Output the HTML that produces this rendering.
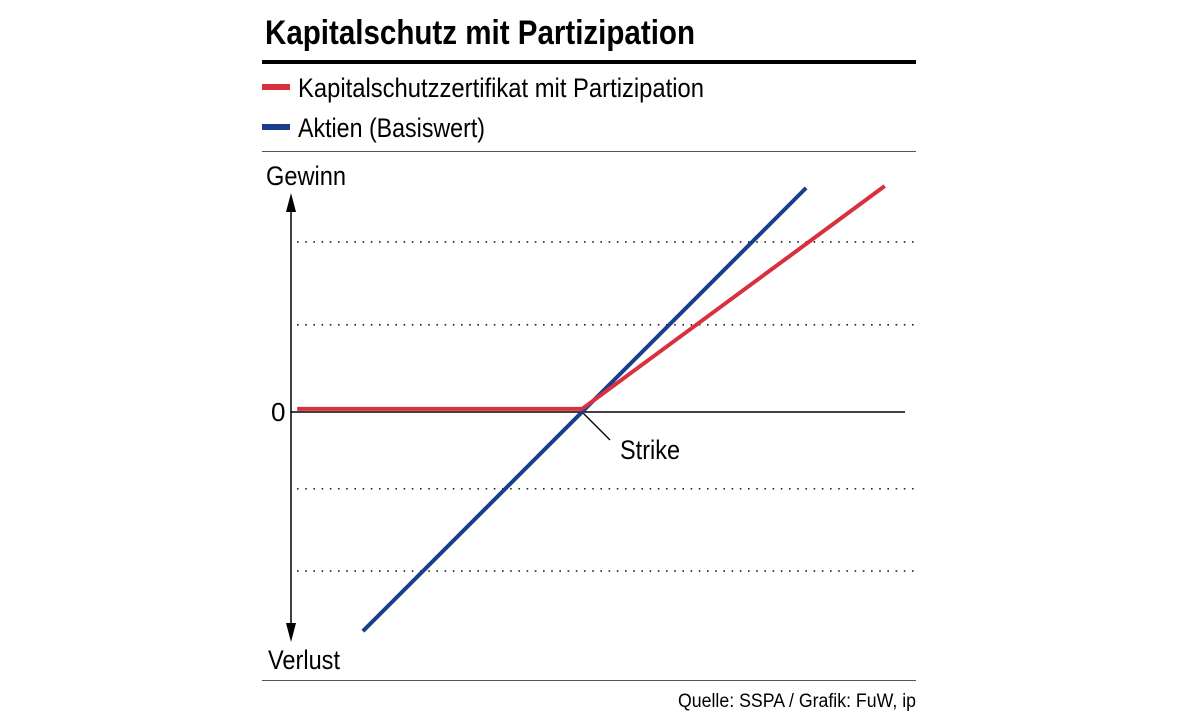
<!DOCTYPE html>
<html><head><meta charset="utf-8"><style>
html,body{margin:0;padding:0;background:#fff;}
svg{display:block;font-family:"Liberation Sans Narrow","Liberation Sans",sans-serif;}
</style></head><body>
<svg id="chart" width="1179" height="713" viewBox="0 0 1179 713">
<text x="265" y="44" font-size="34" font-weight="bold" textLength="430" lengthAdjust="spacingAndGlyphs">Kapitalschutz mit Partizipation</text>
<rect x="262" y="60" width="654" height="4" fill="#000"/>
<g>
<rect x="262" y="84" width="28" height="6" fill="#d9303e"/>
<text x="298" y="97" font-size="27" textLength="406" lengthAdjust="spacingAndGlyphs">Kapitalschutzzertifikat mit Partizipation</text>
<rect x="262" y="124" width="28" height="6" fill="#1b3e8c"/>
<text x="298" y="137" font-size="27" textLength="187" lengthAdjust="spacingAndGlyphs">Aktien (Basiswert)</text>
</g>
<rect x="262" y="151" width="654" height="1" fill="#555"/>
<g id="plot"></g>
<text x="266" y="185" font-size="27" textLength="80" lengthAdjust="spacingAndGlyphs">Gewinn</text>
<text x="268" y="669" font-size="27" textLength="72" lengthAdjust="spacingAndGlyphs">Verlust</text>
<text x="271" y="421" font-size="26">0</text>
<rect x="262" y="680" width="654" height="1" fill="#555"/>
<text x="916" y="707" font-size="19" text-anchor="end" font-family="Liberation Sans, sans-serif" textLength="238" lengthAdjust="spacingAndGlyphs">Quelle: SSPA / Grafik: FuW, ip</text>
</svg>
<script>
const gridValues = [2.77, 1.42, -1.25, -2.59];
const strikeX = 4.74;
const certX = [0.1, 4.74, 9.67];
const certY = [0.05, 0.05, 3.68];
const stockX = [1.17, 8.39];
const stockY = [-3.57, 3.65];
const NS = "http://www.w3.org/2000/svg";
const sx = v => 291 + v * 61.4;
const sy = v => 412 - v * 61.4;
const plot = document.getElementById("plot");
function mk(tag, attrs){const e=document.createElementNS(NS,tag);for(const k in attrs)e.setAttribute(k,attrs[k]);plot.appendChild(e);return e;}
gridValues.forEach(v=>{
  const l = mk("line",{x1:297,x2:914,y1:sy(v),y2:sy(v),stroke:"#222","stroke-width":1.6,"stroke-dasharray":"1.6 6.6"});
  
  
});
const zl = mk("line",{x1:291,x2:905,y1:sy(0),y2:sy(0),stroke:"#000","stroke-width":1.5});


const ax = mk("line",{x1:291,x2:291,y1:205,y2:630,stroke:"#000","stroke-width":1.5});


const au = mk("path",{d:"M291,193 L286,212 L296,212 Z",fill:"#000"});


const ad = mk("path",{d:"M291,642 L286,623 L296,623 Z",fill:"#000"});


const sl = mk("line",{x1:sx(strikeX),y1:sy(0),x2:sx(strikeX)+28,y2:sy(0)+28,stroke:"#000","stroke-width":1.3});


const st = mk("text",{x:sx(strikeX)+38,y:sy(0)+47,"font-size":27,textLength:60,lengthAdjust:"spacingAndGlyphs"});
st.textContent="Strike";


const bl = mk("polyline",{points:stockX.map((x,i)=>sx(x)+","+sy(stockY[i])).join(" "),fill:"none",stroke:"#1b3e8c","stroke-width":4});


const rl = mk("polyline",{points:certX.map((x,i)=>sx(x)+","+sy(certY[i])).join(" "),fill:"none",stroke:"#d9303e","stroke-width":4});


</script>
</body></html>
